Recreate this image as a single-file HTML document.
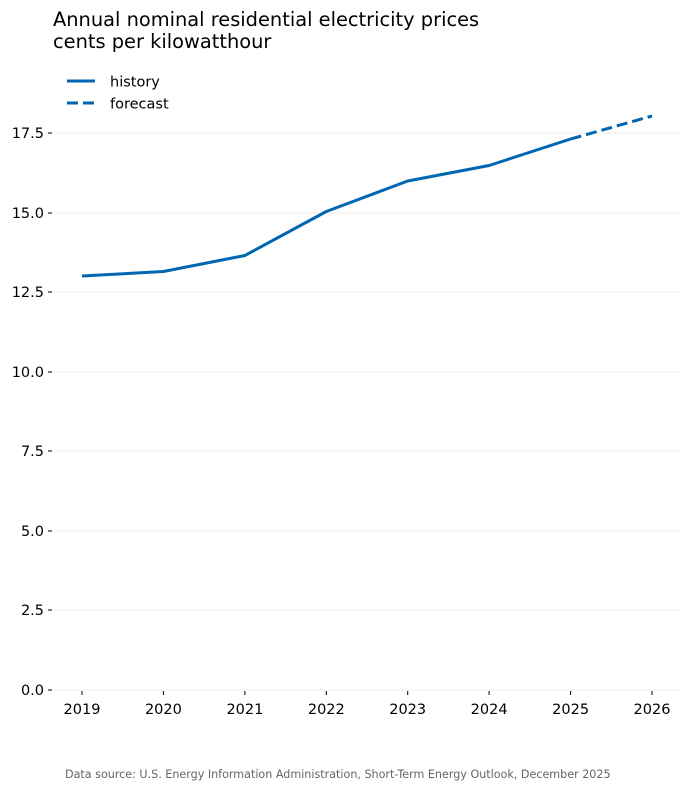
<!DOCTYPE html>
<html><head><style>body{margin:0;background:#fff}</style></head><body>
<svg width="690" height="790" xmlns="http://www.w3.org/2000/svg" font-family="DejaVu Sans, sans-serif">
<text x="53" y="26" font-size="19.4" fill="#000">Annual nominal residential electricity prices</text>
<text x="53" y="48" font-size="19.4" fill="#000">cents per kilowatthour</text>
<g stroke="#f0f0f0" stroke-width="1.2">
<line x1="53" x2="680" y1="133" y2="133"/><line x1="53" x2="680" y1="213" y2="213"/>
<line x1="53" x2="680" y1="292" y2="292"/><line x1="53" x2="680" y1="372" y2="372"/>
<line x1="53" x2="680" y1="451" y2="451"/><line x1="53" x2="680" y1="531" y2="531"/>
<line x1="53" x2="680" y1="610" y2="610"/><line x1="53" x2="680" y1="690" y2="690"/>
</g>
<g stroke="#000" stroke-width="1">
<line x1="48" x2="52" y1="133" y2="133"/><line x1="48" x2="52" y1="213" y2="213"/>
<line x1="48" x2="52" y1="292" y2="292"/><line x1="48" x2="52" y1="372" y2="372"/>
<line x1="48" x2="52" y1="451" y2="451"/><line x1="48" x2="52" y1="531" y2="531"/>
<line x1="48" x2="52" y1="610" y2="610"/><line x1="48" x2="52" y1="690" y2="690"/>
<line x1="82" x2="82" y1="691" y2="695"/><line x1="163.4" x2="163.4" y1="691" y2="695"/>
<line x1="244.9" x2="244.9" y1="691" y2="695"/><line x1="326.3" x2="326.3" y1="691" y2="695"/>
<line x1="407.7" x2="407.7" y1="691" y2="695"/><line x1="489.1" x2="489.1" y1="691" y2="695"/>
<line x1="570.6" x2="570.6" y1="691" y2="695"/><line x1="652" x2="652" y1="691" y2="695"/>
</g>
<g font-size="14.5" text-anchor="end" fill="#000">
<text x="44" y="138">17.5</text><text x="44" y="218">15.0</text><text x="44" y="297">12.5</text>
<text x="44" y="377">10.0</text><text x="44" y="456">7.5</text><text x="44" y="536">5.0</text>
<text x="44" y="615">2.5</text><text x="44" y="695">0.0</text>
</g>
<g font-size="14.5" text-anchor="middle" fill="#000">
<text x="82" y="714">2019</text><text x="163.4" y="714">2020</text><text x="244.9" y="714">2021</text>
<text x="326.3" y="714">2022</text><text x="407.7" y="714">2023</text><text x="489.1" y="714">2024</text>
<text x="570.6" y="714">2025</text><text x="652" y="714">2026</text>
</g>
<polyline fill="none" stroke="#0066b0" stroke-width="3" stroke-linejoin="round" points="82,276 163.4,271.5 244.9,255.5 326.3,211.5 407.7,181 489.1,165.5 570.6,139"/>
<polyline fill="none" stroke="#0066b0" stroke-width="3" stroke-dasharray="11,5" points="570.6,139 652,116"/>
<line x1="67" x2="95" y1="81" y2="81" stroke="#0066b0" stroke-width="3"/>
<line x1="67" x2="95" y1="103" y2="103" stroke="#0066b0" stroke-width="3" stroke-dasharray="11,5"/>
<text x="110" y="86.5" font-size="14.5">history</text>
<text x="110" y="108.5" font-size="14.5">forecast</text>
<text x="65" y="778" font-size="11.15" fill="#666">Data source: U.S. Energy Information Administration, Short-Term Energy Outlook, December 2025</text>
</svg>
</body></html>
